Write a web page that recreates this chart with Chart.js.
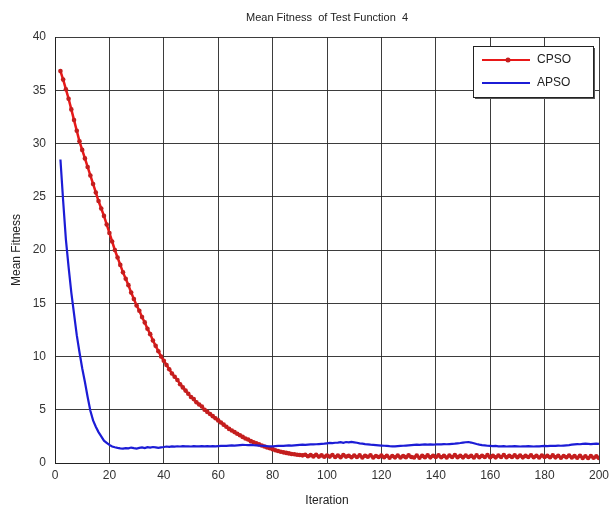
<!DOCTYPE html>
<html>
<head>
<meta charset="utf-8">
<script src="https://cdn.jsdelivr.net/npm/chart.js@4.4.1/dist/chart.umd.min.js"></script>
<style>
  body { margin: 0; background: #fff; }
  #wrap { width: 612px; height: 508px; }
</style>
</head>
<body>
<div id="wrap"><canvas id="myChart" width="612" height="508"></canvas></div>
<script>
// data
var chartTitle = "Mean Fitness  of Test Function  4";
var xTitle = "Iteration";
var yTitle = "Mean Fitness";
var xTicks = [0, 20, 40, 60, 80, 100, 120, 140, 160, 180, 200];
var yTicks = [0, 5, 10, 15, 20, 25, 30, 35, 40];
var seriesNames = ["CPSO", "APSO"];

// iterations 2..200
var iterations = [];
for (var i = 2; i <= 200; i++) iterations.push(i);

var cpso = [
    36.8, 36.0, 35.1, 34.2, 33.2, 32.2, 31.2, 30.2, 29.4,
    28.6, 27.8, 27.0, 26.2, 25.4, 24.6, 23.9, 23.2, 22.4, 21.6,
    20.8, 20.0, 19.3, 18.6, 17.9, 17.3, 16.7, 16.0, 15.4, 14.8,
    14.3, 13.7, 13.2, 12.6, 12.1, 11.5, 11.0, 10.5, 10.0, 9.6,
    9.2, 8.8, 8.4, 8.1, 7.8, 7.4, 7.1, 6.8, 6.5, 6.2,
    6.0, 5.7, 5.5, 5.3, 5.0, 4.8, 4.6, 4.4, 4.2, 4.0,
    3.8, 3.6, 3.4, 3.2, 3.05, 2.9, 2.75, 2.6, 2.45, 2.3,
    2.2, 2.05, 1.95, 1.85, 1.75, 1.65, 1.55, 1.45, 1.38, 1.3,
    1.2, 1.12, 1.05, 1.0, 0.95, 0.9, 0.85, 0.82, 0.78, 0.75,
    0.72, 0.78, 0.64, 0.74, 0.62, 0.76, 0.6, 0.72, 0.58, 0.7,
    0.6, 0.75, 0.56, 0.7, 0.55, 0.74, 0.6, 0.68, 0.54, 0.7,
    0.57, 0.72, 0.52, 0.68, 0.58, 0.73, 0.52, 0.66, 0.56, 0.7,
    0.54, 0.68, 0.5, 0.66, 0.53, 0.7, 0.52, 0.65, 0.55, 0.72,
    0.57, 0.52, 0.7, 0.5, 0.67, 0.55, 0.72, 0.53, 0.68, 0.57,
    0.72, 0.54, 0.67, 0.52, 0.7, 0.56, 0.74, 0.55, 0.68, 0.53,
    0.7, 0.56, 0.67, 0.52, 0.72, 0.54, 0.68, 0.56, 0.74, 0.55,
    0.67, 0.53, 0.7, 0.56, 0.75, 0.54, 0.68, 0.57, 0.72, 0.55,
    0.7, 0.53, 0.67, 0.56, 0.73, 0.54, 0.68, 0.52, 0.7, 0.56,
    0.67, 0.54, 0.72, 0.53, 0.68, 0.5, 0.66, 0.54, 0.7, 0.52,
    0.65, 0.5, 0.67, 0.48, 0.63, 0.47, 0.65, 0.49, 0.62, 0.48
];

var apso = [
    28.5, 24.6, 21.0, 18.4, 16.0, 14.0, 12.0, 10.4, 8.9,
    7.6, 6.2, 4.9, 4.0, 3.4, 2.9, 2.5, 2.1, 1.9, 1.7,
    1.55, 1.48, 1.42, 1.38, 1.35, 1.4, 1.37, 1.45, 1.4, 1.36,
    1.42, 1.46, 1.4, 1.48, 1.44, 1.5, 1.46, 1.42, 1.47, 1.5,
    1.55, 1.52, 1.56, 1.54, 1.57, 1.55, 1.58, 1.56, 1.57, 1.55,
    1.58, 1.57, 1.56, 1.58, 1.57, 1.59, 1.57, 1.58, 1.56, 1.58,
    1.6, 1.62, 1.6, 1.63, 1.65, 1.64, 1.66, 1.68, 1.7, 1.69,
    1.68, 1.7, 1.67, 1.66, 1.64, 1.62, 1.6, 1.58, 1.57, 1.56,
    1.58, 1.6, 1.62, 1.61, 1.63, 1.65, 1.64, 1.66, 1.68, 1.7,
    1.72, 1.7, 1.73, 1.75, 1.74, 1.76, 1.78, 1.8, 1.82, 1.85,
    1.88, 1.86, 1.9, 1.92, 1.95, 1.9, 1.97, 1.93, 1.98, 1.94,
    1.9, 1.85, 1.82, 1.78, 1.75, 1.72, 1.7, 1.68, 1.66, 1.64,
    1.62, 1.6, 1.58, 1.57, 1.56, 1.58, 1.6, 1.62, 1.64, 1.66,
    1.68, 1.7, 1.72, 1.71, 1.73, 1.74, 1.72, 1.75, 1.73, 1.74,
    1.76, 1.75, 1.77, 1.76, 1.78, 1.8, 1.82, 1.85, 1.88, 1.92,
    1.95, 1.97, 1.92, 1.85, 1.78, 1.72, 1.68, 1.65, 1.62, 1.6,
    1.58, 1.6, 1.57, 1.56, 1.58, 1.55, 1.57, 1.56, 1.58, 1.57,
    1.55, 1.57, 1.56, 1.58, 1.57, 1.55, 1.57, 1.56, 1.58, 1.6,
    1.58, 1.6, 1.62, 1.6, 1.63, 1.62, 1.64, 1.66, 1.68, 1.72,
    1.75, 1.78, 1.76, 1.8, 1.82, 1.8, 1.78, 1.8, 1.82, 1.8
];

var redColor = "rgb(232,24,24)";
var redDot = "rgb(196,30,30)";
var blueColor = "rgb(28,28,214)";
var gridColor = "rgba(40,40,40,0.9)";
var fontName = "'Liberation Sans', Arial, sans-serif";

function toPoints(vals) {
    return vals.map(function(v, idx) { return { x: iterations[idx], y: v }; });
}

// title centred over the plot box, and matlab style legend box inside it
var boxLegend = {
    id: "boxLegend",
    afterDraw: function(chart) {
        var c = chart.ctx;
        var area = chart.chartArea;
        c.save();
        c.font = "11px " + fontName;
        c.fillStyle = "#222";
        c.textAlign = "center";
        c.textBaseline = "middle";
        c.fillText(chartTitle, (area.left + area.right) / 2, 18);

        var x0 = 473, y0 = 46, w = 120, h = 51;
        c.fillStyle = "#555";
        c.fillRect(x0 + 2, y0 + 2, w, h);
        c.fillStyle = "#fff";
        c.fillRect(x0, y0, w, h);
        c.strokeStyle = "#222";
        c.lineWidth = 1;
        c.strokeRect(x0 + 0.5, y0 + 0.5, w, h);
        var ds = chart.data.datasets;
        c.font = "12px " + fontName;
        c.textAlign = "left";
        var rows = [y0 + 14, y0 + 37];
        ds.forEach(function(d, k) {
            var yy = rows[k];
            c.strokeStyle = d.borderColor;
            c.lineWidth = 2;
            c.beginPath();
            c.moveTo(x0 + 9, yy);
            c.lineTo(x0 + 57, yy);
            c.stroke();
            if (d.pointRadius > 0) {
                c.fillStyle = d.pointBackgroundColor;
                c.beginPath();
                c.arc(x0 + 35, yy, 2.5, 0, Math.PI * 2);
                c.fill();
            }
            c.fillStyle = "#222";
            c.fillText(d.label, x0 + 64, yy);
        });
        c.restore();
    }
};

var ctx = document.getElementById("myChart").getContext("2d");
var myChart = new Chart(ctx, {
    type: "line",
    data: {
        datasets: [
            {
                label: seriesNames[0],
                data: toPoints(cpso),
                borderColor: redColor,
                backgroundColor: redColor,
                borderWidth: 2.5,
                pointRadius: 2.3,
                pointBorderWidth: 0,
                pointBackgroundColor: redDot,
                tension: 0,
                order: 1
            },
            {
                label: seriesNames[1],
                data: toPoints(apso),
                borderColor: blueColor,
                backgroundColor: blueColor,
                borderWidth: 2.2,
                pointRadius: 0,
                tension: 0,
                order: 0
            }
        ]
    },
    options: {
        responsive: false,
        animation: false,
        layout: { padding: { left: 9, right: 13, top: 37, bottom: 0 } },
        plugins: {
            legend: { display: false },
            tooltip: { enabled: false },
            title: { display: false }
        },
        scales: {
            x: {
                type: "linear",
                min: 0,
                max: 200,
                afterBuildTicks: function(axis) {
                    axis.ticks = xTicks.map(function(v) { return { value: v }; });
                },
                afterFit: function(axis) {
                    axis.height = 45;
                    axis.paddingRight = 0;
                    axis.paddingLeft = 0;
                },
                grid: { color: gridColor, lineWidth: 1, drawTicks: false },
                border: { color: "#222", width: 1 },
                ticks: {
                    color: "#333",
                    padding: 5,
                    maxRotation: 0,
                    font: { family: fontName, size: 12 }
                },
                title: {
                    display: true,
                    text: xTitle,
                    color: "#222",
                    padding: { top: 2, bottom: 0 },
                    font: { family: fontName, size: 12 }
                }
            },
            y: {
                min: 0,
                max: 40,
                afterBuildTicks: function(axis) {
                    axis.ticks = yTicks.map(function(v) { return { value: v }; });
                },
                afterFit: function(axis) { axis.width = 46; },
                grid: { color: gridColor, lineWidth: 1, drawTicks: false },
                border: { color: "#222", width: 1 },
                ticks: {
                    color: "#333",
                    padding: 9,
                    font: { family: fontName, size: 12 }
                },
                title: {
                    display: true,
                    text: yTitle,
                    color: "#222",
                    padding: { top: 0, bottom: 4 },
                    font: { family: fontName, size: 12 }
                }
            }
        }
    },
    plugins: [boxLegend]
});
</script>
</body>
</html>
